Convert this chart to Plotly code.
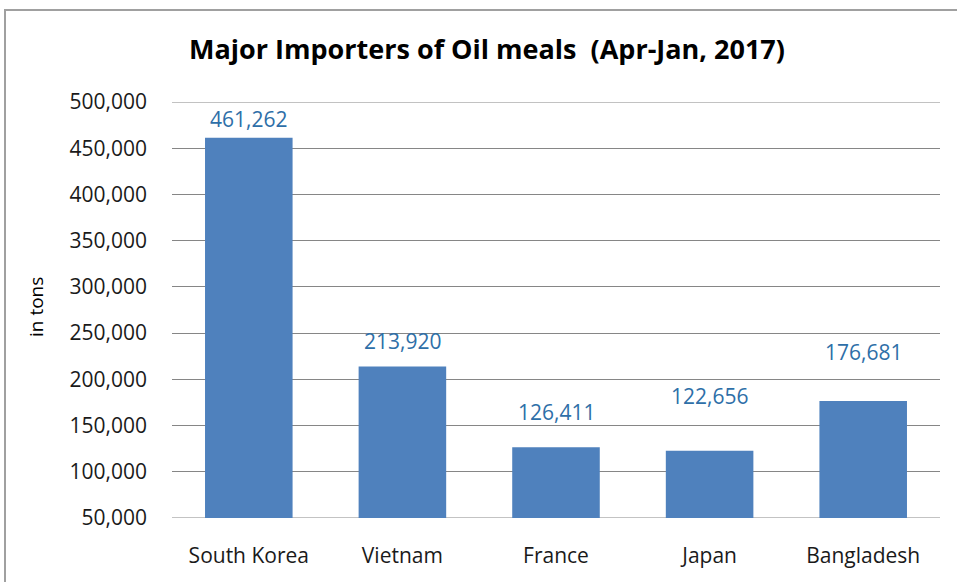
import plotly.graph_objects as go

countries = ["South Korea", "Vietnam", "France", "Japan", "Bangladesh"]
imports_tons = [461262, 213920, 126411, 122656, 176681]
label_texts = ["461,262", "213,920", "126,411", "122,656", "176,681"]
label_shift = [19, 25, 35, 55, 49]

tick_vals = [50000, 100000, 150000, 200000, 250000, 300000, 350000, 400000, 450000, 500000]
tick_text = ["50,000", "100,000", "150,000", "200,000", "250,000", "300,000",
             "350,000", "400,000", "450,000", "500,000"]

FONT = "Open Sans"
W, H = 957, 582
L, R, T, B = 172, 17, 102, 64
GRID = "#868686"

fig = go.Figure()
fig.add_trace(go.Bar(
    x=countries, y=imports_tons,
    marker=dict(color="#4F81BD", line=dict(width=0)),
    width=0.57,
    hoverinfo="x+y",
))

for c, v, t, s in zip(countries, imports_tons, label_texts, label_shift):
    fig.add_annotation(x=c, y=v, text=t, showarrow=False, yanchor="middle",
                       yshift=s, font=dict(family=FONT, size=21, color="#2E6FA8"))

pw = W - L - R
ph = H - T - B
# outer chart border
fig.add_shape(type="rect", xref="paper", yref="paper",
              x0=(5 - L) / pw, x1=(W + 10 - L) / pw,
              y0=(H - B - (H + 10)) / ph, y1=(H - B - 10) / ph,
              line=dict(color="#A0A0A0", width=2), fillcolor="rgba(0,0,0,0)", layer="below")

# gridlines at the range edges (plotly hides those)
for yv in (tick_vals[0], tick_vals[-1]):
    fig.add_shape(type="line", xref="paper", yref="y", x0=0, x1=1, y0=yv, y1=yv,
                  line=dict(color=GRID, width=1), layer="below")

fig.add_annotation(text="in tons", xref="paper", yref="paper",
                   x=(36 - L) / pw, y=(H - B - 307) / ph, textangle=-90,
                   showarrow=False, xanchor="center", yanchor="middle",
                   font=dict(family=FONT, size=19, color="#000000"))

fig.update_layout(
    width=W, height=H,
    margin=dict(l=L, r=R, t=T, b=B, autoexpand=False),
    paper_bgcolor="white", plot_bgcolor="white",
    showlegend=False,
    title=dict(text="<b>Major Importers of Oil meals  (Apr-Jan, 2017)</b>",
               x=487 / W, xref="container", xanchor="center",
               y=1 - 50 / H, yref="container", yanchor="middle",
               font=dict(family=FONT, size=27, color="#000000")),
    xaxis=dict(showgrid=False, showline=False, ticks="",
               tickfont=dict(family=FONT, size=21, color="#1a1a1a"),
               ticklabelstandoff=23),
    yaxis=dict(range=[tick_vals[0], tick_vals[-1]], tickvals=tick_vals, ticktext=tick_text,
               showgrid=True, gridcolor=GRID, gridwidth=1,
               zeroline=False, showline=False, ticks="",
               tickfont=dict(family=FONT, size=21, color="#1a1a1a"),
               ticklabelstandoff=24),
)

fig.write_html("out.html")
